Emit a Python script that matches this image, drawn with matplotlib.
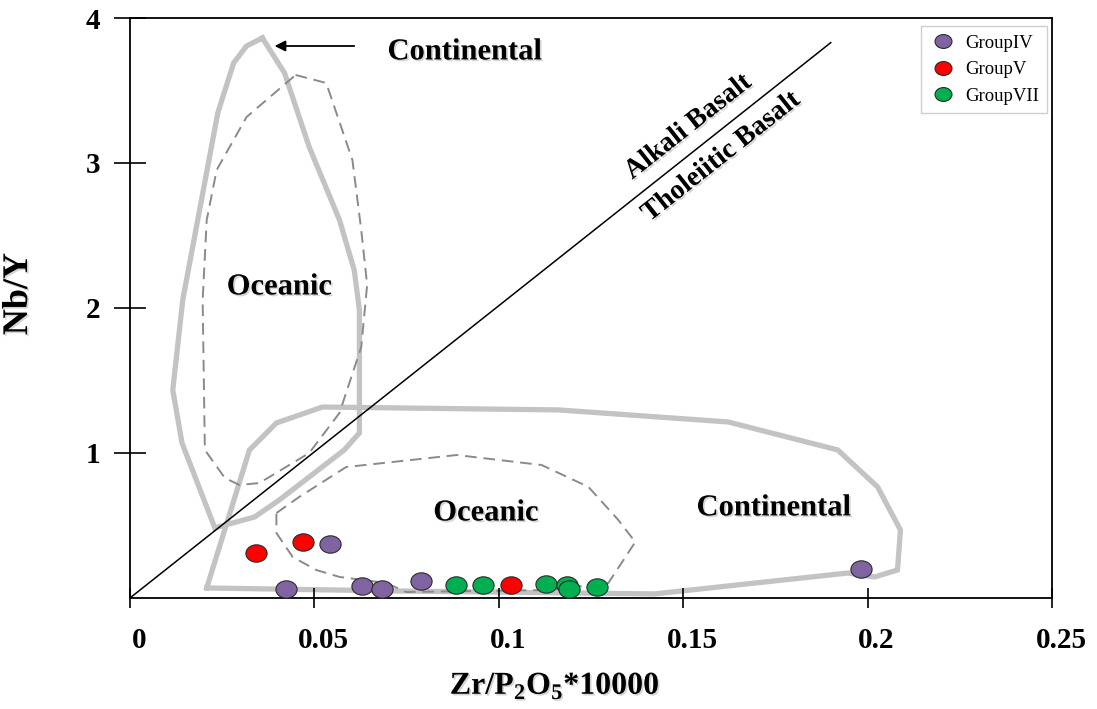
import matplotlib
matplotlib.use('Agg')
import matplotlib.pyplot as plt
import matplotlib.patheffects as pe
from matplotlib.markers import MarkerStyle
from matplotlib.transforms import Affine2D, ScaledTranslation

plt.rcParams['font.family'] = 'Liberation Serif'
plt.rcParams['font.weight'] = 'bold'
plt.rcParams['mathtext.fontset'] = 'custom'
plt.rcParams['mathtext.rm'] = 'Liberation Serif'
plt.rcParams['mathtext.bf'] = 'Liberation Serif:bold'

# --- SAMPLES (Zr/P2O5*10000 vs Nb/Y) ---
g4_x = [0.0422, 0.0543, 0.0630, 0.0684, 0.0789, 0.1981]
g4_y = [0.062, 0.372, 0.083, 0.062, 0.117, 0.200]
g5_x = [0.0343, 0.0470, 0.1032]
g5_y = [0.310, 0.386, 0.090]
g7_x = [0.0884, 0.0957, 0.1127, 0.1186, 0.1189, 0.1265]
g7_y = [0.090, 0.090, 0.097, 0.090, 0.062, 0.076]

# --- DISCRIMINATION FIELDS ---
# continental field, high Nb/Y branch
cont_hi_x = [0.0359, 0.0419, 0.0486, 0.0568, 0.0608, 0.0622, 0.0622, 0.0581, 0.0405,
             0.0338, 0.0230, 0.0141, 0.0116, 0.0143, 0.0238, 0.0281, 0.0316, 0.0359]
cont_hi_y = [3.862, 3.621, 3.110, 2.607, 2.262, 1.986, 1.138, 1.021, 0.676,
             0.559, 0.483, 1.069, 1.434, 2.055, 3.345, 3.690, 3.807, 3.862]
# oceanic field, high Nb/Y branch
ocean_hi_x = [0.0449, 0.0532, 0.0603, 0.0627, 0.0643, 0.0627, 0.0568, 0.0486, 0.0351,
              0.0297, 0.0257, 0.0203, 0.0197, 0.0208, 0.0235, 0.0316, 0.0449]
ocean_hi_y = [3.607, 3.552, 3.021, 2.538, 2.159, 1.731, 1.276, 1.000, 0.793,
              0.779, 0.828, 1.021, 2.055, 2.607, 2.952, 3.317, 3.607]
# continental field, low Nb/Y branch
cont_lo_x = [0.0208, 0.0324, 0.0397, 0.0522, 0.1162, 0.1622, 0.1919, 0.2027, 0.2089,
             0.2081, 0.2019, 0.1946, 0.1422, 0.0730, 0.0208]
cont_lo_y = [0.069, 1.021, 1.207, 1.317, 1.297, 1.214, 1.021, 0.766, 0.469,
             0.193, 0.145, 0.172, 0.028, 0.048, 0.069]
# oceanic field, low Nb/Y branch
ocean_lo_x = [0.0397, 0.0459, 0.0586, 0.0886, 0.1116, 0.1243, 0.1324, 0.1370, 0.1297,
              0.1135, 0.0749, 0.0695, 0.0568, 0.0505, 0.0441, 0.0397, 0.0397]
ocean_lo_y = [0.586, 0.697, 0.903, 0.986, 0.917, 0.766, 0.538, 0.386, 0.103,
              0.055, 0.041, 0.103, 0.145, 0.193, 0.283, 0.448, 0.586]

# alkali / tholeiitic divide
divide_x = [0.0, 0.19]
divide_y = [0.0, 3.83]

x_ticks = [0, 0.05, 0.1, 0.15, 0.2, 0.25]
x_labels = ['0', '0.05', '0.1', '0.15', '0.2', '0.25']
y_ticks = [1, 2, 3, 4]

SOLID = '#c3c3c3'
DASH = '#8a8a8a'
shadow = [pe.SimplePatchShadow(offset=(1.2, -1.2), shadow_rgbFace='#888888', alpha=0.35), pe.Normal()]

fig, ax = plt.subplots(figsize=(10.97, 7.09), dpi=100)
fig.subplots_adjust(left=0.1185, right=0.959, bottom=0.1566, top=0.9746)

# fields
ax.plot(cont_hi_x, cont_hi_y, color=SOLID, lw=3.8, solid_joinstyle='miter', zorder=1)
ax.plot(cont_lo_x, cont_lo_y, color=SOLID, lw=3.8, solid_joinstyle='miter', zorder=1)
ax.plot(ocean_hi_x, ocean_hi_y, color=DASH, lw=1.4, dashes=(6, 3.5), zorder=1)
ax.plot(ocean_lo_x, ocean_lo_y, color=DASH, lw=1.4, dashes=(6, 3.5), zorder=1)
ax.plot(divide_x, divide_y, color='black', lw=1.1, zorder=2)

# samples: slightly flattened ellipses
ell = MarkerStyle('o', transform=Affine2D().scale(1.22, 1.0))
groups = [('GroupIV', g4_x, g4_y, '#8064a2'),
          ('GroupV', g5_x, g5_y, '#ff0000'),
          ('GroupVII', g7_x, g7_y, '#00b050')]
for name, gx, gy, col in groups:
    ax.plot(gx, gy, ls='none', marker=ell, markersize=12.5, markerfacecolor=col,
            markeredgecolor='#2a2a2a', markeredgewidth=0.8, label=name, zorder=3)

# field labels
txt = dict(fontsize=22, fontweight='bold', ha='center', va='center', path_effects=shadow)
ax.text(0.0908, 3.766, 'Continental', **txt)
ax.text(0.0405, 2.145, 'Oceanic', **txt)
ax.text(0.0965, 0.586, 'Oceanic', **txt)
ax.text(0.1746, 0.621, 'Continental', **txt)
ax.text(0.1514, 3.248, 'Alkali Basalt', fontsize=20, fontweight='bold', rotation=38.3,
        rotation_mode='anchor', ha='center', va='center', path_effects=shadow)
ax.text(0.1603, 3.041, 'Tholeiitic Basalt', fontsize=20, fontweight='bold', rotation=38.3,
        rotation_mode='anchor', ha='center', va='center', path_effects=shadow)
ax.annotate('', xy=(0.0392, 3.807), xytext=(0.0608, 3.807),
            arrowprops=dict(arrowstyle='-|>', color='black', lw=1.3, mutation_scale=16,
                            shrinkA=0, shrinkB=0))

# axes
ax.set_xlim(0, 0.25)
ax.set_ylim(0, 4)
for s in ax.spines.values():
    s.set_linewidth(1.3)
ax.set_xticks(x_ticks)
ax.set_xticklabels(x_labels)
ax.set_yticks(y_ticks)
ax.tick_params(axis='x', direction='inout', length=14, width=1.2, pad=14, labelsize=21)
ax.tick_params(axis='y', direction='inout', length=23, width=1.2, pad=10, labelsize=21)
for lab in ax.get_xticklabels():
    lab.set_transform(lab.get_transform() + ScaledTranslation(0.09, 0, fig.dpi_scale_trans))

ax.set_xlabel(r'Zr/P$_\mathbf{2}$O$_\mathbf{5}$*10000', fontsize=23, fontweight='bold',
              va='center', path_effects=shadow)
ax.xaxis.set_label_coords(0.461, -0.152)
ax.set_ylabel('Nb/Y', fontsize=26, fontweight='bold', path_effects=shadow)
ax.yaxis.set_label_coords(-0.103, 0.524)

leg = ax.legend(loc='upper right', bbox_to_anchor=(0.995, 0.986), borderaxespad=0,
                prop={'family': 'Liberation Serif', 'weight': 'normal', 'size': 13.5},
                fancybox=False, edgecolor='#cfcfcf', framealpha=1, markerscale=0.8,
                handletextpad=0.5, labelspacing=0.5, borderpad=0.45, handlelength=1.4)
leg.get_frame().set_linewidth(1.0)

plt.savefig('out.png', dpi=100)
